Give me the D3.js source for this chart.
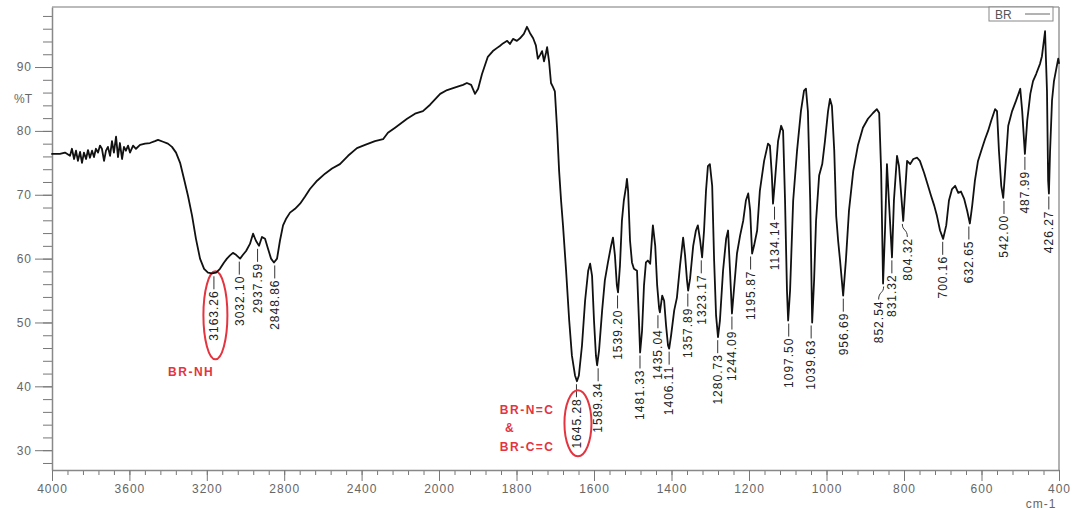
<!DOCTYPE html>
<html>
<head>
<meta charset="utf-8">
<script src="https://cdn.jsdelivr.net/npm/d3@7"></script>
<style>
  body { margin: 0; background: #fff; }
  text { font-family: "Liberation Sans", Arial, sans-serif; }
</style>
</head>
<body>
<div id="chart"></div>
<script>
// IR spectrum of BR
const wavenumber = [
  4000, 3959, 3933, 3907, 3897, 3886, 3876, 3866, 3855, 3845, 3835, 3824, 3814, 3804, 3793, 3783,
  3773, 3762, 3752, 3742, 3731, 3721, 3711, 3700, 3690, 3680, 3669, 3659, 3649, 3638, 3628, 3618,
  3607, 3597, 3581, 3566, 3545, 3519, 3494, 3468, 3452, 3426, 3401, 3380, 3359, 3338, 3318, 3297,
  3276, 3256, 3235, 3214, 3194, 3173, 3152, 3132, 3111, 3096, 3080, 3065, 3049, 3028, 3013, 2997,
  2977, 2961, 2946, 2930, 2915, 2899, 2884, 2868, 2853, 2837, 2822, 2806, 2791, 2770, 2744, 2718,
  2693, 2667, 2630, 2589, 2553, 2512, 2470, 2424, 2382, 2331, 2289, 2264, 2227, 2165, 2124, 2083,
  2046, 1997, 1979, 1954, 1938, 1928, 1917, 1907, 1899, 1889, 1874, 1861, 1850, 1843, 1835, 1824,
  1817, 1809, 1799, 1791, 1781, 1773, 1765, 1757, 1750, 1745, 1739, 1734, 1729, 1724, 1721, 1716,
  1711, 1706, 1701, 1695, 1690, 1685, 1680, 1672, 1664, 1657, 1649, 1644, 1639, 1631, 1623, 1615,
  1610, 1605, 1600, 1595, 1592, 1587, 1579, 1572, 1564, 1556, 1551, 1546, 1541, 1538, 1533, 1528,
  1523, 1517, 1515, 1512, 1507, 1502, 1497, 1489, 1484, 1481, 1476, 1471, 1466, 1461, 1455, 1450,
  1448, 1442, 1437, 1432, 1430, 1424, 1419, 1414, 1409, 1406, 1401, 1393, 1386, 1378, 1370, 1365,
  1360, 1357, 1352, 1344, 1337, 1332, 1326, 1321, 1316, 1311, 1306, 1301, 1295, 1290, 1285, 1280,
  1275, 1267, 1259, 1254, 1249, 1244, 1239, 1231, 1223, 1215, 1208, 1202, 1197, 1192, 1187, 1179,
  1172, 1161, 1151, 1146, 1141, 1138, 1133, 1125, 1117, 1112, 1107, 1102, 1099, 1094, 1086, 1076,
  1066, 1058, 1053, 1048, 1042, 1037, 1032, 1027, 1019, 1011, 1004, 996, 991, 986, 980, 975,
  970, 965, 957, 950, 942, 931, 919, 906, 893, 880, 870, 864, 859, 854, 849, 844,
  839, 831, 826, 818, 813, 808, 802, 797, 792, 784, 776, 766, 759, 748, 738, 730,
  722, 715, 707, 699, 691, 684, 676, 668, 660, 653, 645, 637, 630, 624, 617, 609,
  599, 591, 583, 575, 565, 560, 555, 549, 544, 539, 531, 521, 511, 500, 495, 488,
  482, 474, 467, 459, 449, 444, 436, 431, 428, 426, 423, 418, 413, 408, 402, 400
];
const transmittance = [
  76.4, 76.4, 76.6, 76.1, 77.2, 75.6, 76.9, 75.3, 76.7, 75.0, 76.6, 75.6, 77.0, 75.8, 76.9, 75.9,
  77.2, 76.6, 77.7, 77.2, 75.3, 76.9, 77.5, 76.1, 78.4, 76.6, 79.1, 75.9, 78.1, 75.6, 77.5, 76.9,
  77.7, 76.6, 77.7, 77.2, 77.8, 78.0, 78.1, 78.4, 78.6, 78.3, 78.0, 77.5, 76.6, 75.0, 72.5, 69.8,
  66.7, 63.1, 60.0, 58.4, 57.8, 57.7, 57.8, 58.4, 59.4, 60.0, 60.5, 60.9, 60.6, 60.0, 60.6, 61.2,
  62.3, 63.9, 62.8, 62.0, 63.4, 63.1, 61.6, 60.0, 59.4, 60.0, 62.8, 65.2, 66.2, 67.2, 67.8, 68.6,
  69.7, 70.9, 72.2, 73.3, 74.1, 74.8, 76.1, 77.3, 77.8, 78.4, 78.7, 79.7, 80.5, 81.9, 82.7, 83.1,
  84.1, 85.8, 86.4, 86.9, 87.2, 87.5, 87.2, 85.8, 86.6, 88.9, 91.6, 92.5, 93.0, 93.3, 93.7, 94.1,
  93.6, 94.4, 94.1, 94.5, 95.2, 96.3, 95.3, 94.5, 93.4, 91.3, 91.9, 92.5, 90.9, 92.2, 93.1, 90.9,
  87.5, 86.9, 86.2, 80.0, 73.7, 69.1, 65.2, 58.1, 50.3, 44.8, 41.7, 40.8, 41.7, 46.4, 53.4, 58.1,
  59.2, 57.3, 50.3, 44.8, 43.3, 45.6, 51.9, 56.6, 59.4, 62.0, 63.3, 60.5, 55.8, 54.7, 58.9, 65.9,
  69.1, 71.4, 72.5, 70.6, 62.8, 59.4, 58.4, 58.1, 50.3, 45.3, 48.7, 55.8, 59.4, 59.7, 59.2, 63.6,
  65.2, 62.0, 55.8, 52.2, 51.6, 54.2, 53.4, 49.5, 46.4, 45.9, 48.0, 51.9, 53.9, 58.9, 63.3, 60.5,
  56.6, 55.0, 56.9, 62.0, 64.4, 65.2, 62.8, 60.2, 64.4, 70.6, 74.5, 74.8, 71.4, 59.7, 51.1, 47.7,
  50.3, 58.1, 63.1, 64.4, 58.1, 51.4, 55.0, 60.8, 63.6, 65.9, 69.1, 70.2, 67.5, 60.8, 62.0, 64.4,
  70.6, 75.3, 78.0, 77.7, 73.0, 68.6, 72.2, 78.4, 80.8, 80.0, 69.1, 55.0, 50.3, 55.0, 69.1, 76.9,
  83.1, 86.3, 86.6, 83.1, 69.1, 50.0, 56.6, 65.9, 73.0, 74.8, 78.4, 83.1, 85.0, 83.9, 76.9, 66.7,
  62.8, 59.7, 54.2, 59.7, 67.5, 73.7, 77.7, 80.5, 81.9, 82.8, 83.4, 82.8, 73.7, 56.1, 64.4, 74.8,
  69.1, 60.2, 69.1, 76.1, 74.5, 70.6, 65.9, 70.6, 75.3, 74.8, 75.6, 75.8, 75.3, 73.4, 71.4, 69.8,
  68.3, 66.7, 64.4, 63.1, 65.2, 69.1, 70.9, 71.4, 70.3, 70.5, 69.4, 67.5, 65.5, 68.3, 72.2, 75.3,
  77.2, 78.7, 80.0, 81.6, 83.4, 83.1, 76.9, 71.4, 69.5, 73.7, 80.8, 83.1, 84.7, 86.6, 83.1, 76.4,
  81.6, 85.8, 87.8, 88.9, 90.5, 91.7, 95.6, 86.2, 72.2, 70.2, 76.9, 84.8, 87.8, 89.4, 91.3, 90.6
];

// picked peaks: label and %T at the bottom of the band
const peakLabels = ["3163.26", "3032.10", "2937.59", "2848.86", "1645.28", "1589.34", "1539.20",
  "1481.33", "1435.04", "1406.11", "1357.89", "1323.17", "1280.73", "1244.09", "1195.87", "1134.14",
  "1097.50", "1039.63", "956.69", "852.54", "831.32", "804.32", "700.16", "632.65", "542.00",
  "487.99", "426.27"];
const peakT = [57.7, 60.0, 62.0, 59.4, 40.8, 43.3, 54.7, 45.3, 51.6, 45.9, 55.0, 60.2, 47.7, 51.4,
  60.8, 68.6, 50.3, 50.0, 54.2, 56.1, 60.2, 65.9, 63.1, 65.5, 69.5, 76.4, 70.2];

const xMajorTicks = [4000, 3600, 3200, 2800, 2400, 2000, 1800, 1600, 1400, 1200, 1000, 800, 600, 400];
const yMajorTicks = [30, 40, 50, 60, 70, 80, 90];
const seriesName = "BR";
const circled = ["3163.26", "1645.28"];
const notes = ["BR-NH", "BR-N=C", "&", "BR-C=C"];

const width = 1072, height = 510;
const plot = {left: 52, right: 1059, top: 7, bottom: 470};
const red = "#e3343f";

// x axis is split at 2000 cm-1: the right part has twice as many px per cm-1
const xScale = d3.scaleLinear()
    .domain([4000, 2000, 400])
    .range([plot.left, 439, plot.right]);

const yScale = d3.scaleLinear()
    .domain([26.9, 99.4])
    .range([plot.bottom, plot.top]);

const svg = d3.select("#chart").append("svg")
    .attr("width", width)
    .attr("height", height)
    .style("background", "#fff");

// frame
svg.append("line")
    .attr("x1", plot.left).attr("x2", plot.right)
    .attr("y1", plot.top).attr("y2", plot.top)
    .attr("stroke", "#bbb").attr("stroke-width", 2);
svg.append("line")
    .attr("x1", plot.right).attr("x2", plot.right)
    .attr("y1", plot.top).attr("y2", plot.bottom)
    .attr("stroke", "#999").attr("stroke-width", 1.5);

// x minor ticks: every 80 cm-1 left of 2000, every 40 cm-1 right of it
const xMinor = d3.range(4000, 2000, -80).concat(d3.range(2000, 399, -40));
svg.append("g")
    .attr("transform", "translate(0," + plot.bottom + ")")
    .call(d3.axisBottom(xScale).tickValues(xMinor).tickSize(5).tickSizeOuter(0).tickFormat(""))
    .call(g => g.select(".domain").remove());

let xAxis = svg.append("g")
    .attr("class", "x axis")
    .attr("transform", "translate(0," + plot.bottom + ")")
    .call(d3.axisBottom(xScale).tickValues(xMajorTicks).tickSize(11).tickSizeOuter(0).tickFormat(d3.format("d")));

const yMinor = d3.range(28, 100, 2);
svg.append("g")
    .attr("transform", "translate(" + plot.left + ",0)")
    .call(d3.axisLeft(yScale).tickValues(yMinor).tickSize(9).tickSizeOuter(0).tickFormat(""))
    .call(g => g.select(".domain").remove());

let yAxis = svg.append("g")
    .attr("class", "y axis")
    .attr("transform", "translate(" + plot.left + ",0)")
    .call(d3.axisLeft(yScale).tickValues(yMajorTicks).tickSize(17).tickPadding(3).tickSizeOuter(0));

svg.selectAll(".tick line").attr("stroke", "#777");
svg.selectAll(".domain").attr("stroke", "#888").attr("stroke-width", 1.5);
svg.selectAll(".axis text")
    .attr("fill", "#666")
    .style("font-size", "12px")
    .style("letter-spacing", "1px")
    .style("font-family", "'Liberation Sans', Arial, sans-serif");

svg.append("text")
    .attr("x", 14).attr("y", 103)
    .attr("fill", "#666").style("font-size", "12px")
    .text("%T");

svg.append("text")
    .attr("x", 1041).attr("y", 508)
    .attr("text-anchor", "middle")
    .attr("fill", "#666").style("font-size", "12px").style("letter-spacing", "1px")
    .text("cm-1");

// legend
svg.append("rect")
    .attr("x", 989).attr("y", 7).attr("width", 64).attr("height", 14)
    .attr("fill", "#fff").attr("stroke", "#888");
svg.append("text")
    .attr("x", 995).attr("y", 19)
    .attr("fill", "#555").style("font-size", "12px")
    .text(seriesName);
svg.append("line")
    .attr("x1", 1025).attr("x2", 1050).attr("y1", 14).attr("y2", 14)
    .attr("stroke", "#666");

// peak labels, vertical text under each band with a short leader
const nudge = {"852.54": -5, "804.32": 5};
const peaks = peakLabels.map((d, i) => ({label: d, wn: +d, t: peakT[i]}));

let pg = svg.append("g").selectAll("g")
    .data(peaks)
    .enter().append("g");

pg.append("path")
    .attr("fill", "none")
    .attr("stroke", "#333")
    .attr("d", d => {
      let x = xScale(d.wn), y = yScale(d.t), dx = nudge[d.label] || 0;
      if (!dx) return "M" + x + "," + (y + 3) + "V" + (y + 16);
      return "M" + x + "," + (y + 3) + "C" + x + "," + (y + 10) + " " + (x + dx) + "," + (y + 8) + " " + (x + dx) + "," + (y + 16);
    });

pg.append("text")
    .attr("transform", d => "translate(" + (xScale(d.wn) + (nudge[d.label] || 0)) + "," + (yScale(d.t) + 17) + ")rotate(-90)")
    .attr("text-anchor", "end")
    .attr("dy", "0.36em")
    .attr("fill", "#222")
    .style("font-size", "12px")
    .style("letter-spacing", "1px")
    .text(d => d.label);

// red ellipses round the two key bands
svg.append("g").selectAll("ellipse")
    .data(peaks.filter(d => circled.includes(d.label)))
    .enter().append("ellipse")
    .attr("cx", d => xScale(d.wn) + 1.5)
    .attr("cy", d => yScale(d.t) + 42)
    .attr("rx", (d, i) => i == 0 ? 12 : 13.5)
    .attr("ry", (d, i) => i == 0 ? 44 : 33)
    .attr("fill", "none")
    .attr("stroke", red)
    .attr("stroke-width", 2);

const notePos = [[3400, 41.6], [1843, 35.6], [1830, 32.8], [1843, 29.85]];
svg.append("g").selectAll("text")
    .data(notes)
    .enter().append("text")
    .attr("x", (d, i) => xScale(notePos[i][0]))
    .attr("y", (d, i) => yScale(notePos[i][1]))
    .attr("fill", red)
    .style("font-size", "12px")
    .style("font-weight", "bold")
    .style("letter-spacing", "1.5px")
    .text(d => d);

// spectrum
const line = d3.line()
    .x(d => xScale(d[0]))
    .y(d => yScale(d[1]));

svg.append("path")
    .datum(d3.zip(wavenumber, transmittance))
    .attr("class", "line")
    .attr("fill", "none")
    .attr("stroke", "#111")
    .attr("stroke-width", 1.8)
    .attr("stroke-linejoin", "round")
    .attr("stroke-linecap", "round")
    .attr("d", line);
</script>
</body>
</html>
